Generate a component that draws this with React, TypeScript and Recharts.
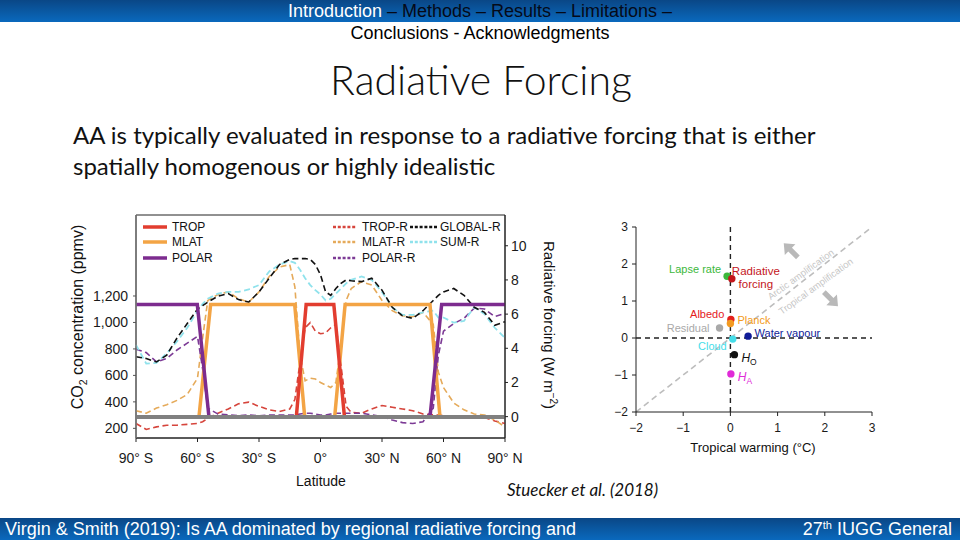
import React from "react";
import {
  LineChart,
  Line,
  XAxis,
  YAxis,
  ReferenceArea,
  ScatterChart,
  Scatter,
  ReferenceLine,
  ReferenceDot,
} from "recharts";

// ---------- Left panel: CO2 forcing patterns and their radiative forcing ----------
const latGrid = [
  -90, -85, -80, -75, -70, -65, -60, -57.5, -55, -50, -45, -40, -35, -30, -25, -20, -15, -12.5, -10, -7.5, -5, -2.5,
  0, 2.5, 5, 7.5, 10, 12.5, 15, 20, 25, 30, 35, 40, 45, 50, 55, 57.5, 60, 65, 70, 75, 80, 85, 90,
];
const tropR = [
  -0.4, -0.75, -0.6, -0.5, -0.5, -0.45, -0.4, -0.3, -0.1, 0.2, 0.45, 0.75, 0.85, 0.6, 0.4, 0.3, 0.45, 1.0, 3.2, 5.2,
  5.5, 5.0, 4.85, 4.9, 5.2, 5.4, 3.0, 0.6, 0.25, 0.2, 0.45, 0.65, 0.55, 0.45, 0.35, 0.15, 0.1, 0.1, 0.05, 0.0, -0.05,
  -0.05, -0.05, -0.25, -0.4,
];
const mlatR = [
  0.35, 0.2, 0.5, 0.7, 0.95, 1.3, 2.25, 4.6, 6.8, 7.15, 7.3, 6.9, 6.7, 7.3, 8.2, 8.75, 8.9, 7.6, 3.6, 2.1, 2.25, 2.2,
  2.0, 1.85, 1.7, 2.0, 4.2, 6.8, 7.5, 7.9, 7.7, 6.8, 6.2, 5.9, 5.85, 6.1, 5.4, 2.6, 1.7, 0.8, 0.4, 0.15, 0.1, -0.2,
  -0.6,
];
const polarR = [
  3.95, 3.75, 3.2, 3.4, 3.9, 4.3, 4.7, 2.8, 0.5, 0.15, 0.1, 0.05, 0.1, 0.05, 0.1, 0.1, 0.1, 0.1, 0.15, 0.2, 0.2, 0.15,
  0.1, 0.1, 0.15, 0.2, 0.2, 0.2, 0.2, 0.2, 0.1, 0.0, -0.2, -0.35, -0.4, -0.3, 0.5, 3.6, 5.0, 5.45, 5.75, 6.35, 6.3,
  5.85, 6.05,
];
const globalR = [
  3.5, 3.4, 3.2, 3.6, 4.6, 5.45, 6.3, 6.5, 6.7, 7.05, 7.2, 6.85, 6.7, 7.3, 8.1, 8.9, 9.2, 9.25, 9.25, 9.25, 9.2, 8.9,
  8.3, 7.3, 7.1, 7.5, 7.8, 8.0, 7.95, 7.9, 8.1, 7.4, 6.4, 5.9, 5.75, 6.2, 6.8, 7.1, 7.3, 7.5, 7.1, 6.4, 6.1, 5.35,
  5.55,
];
const sumR = [
  4.2, 3.1, 3.15, 3.7, 4.4, 5.2, 6.2, 6.6, 6.9, 7.2, 7.3, 7.3, 7.45, 7.7, 8.5, 8.9, 9.1, 9.0, 8.6, 8.1, 7.7, 7.4, 7.15,
  6.8, 6.9, 7.2, 7.5, 7.8, 8.0, 8.2, 8.0, 7.3, 6.4, 5.95, 5.95, 6.1, 6.2, 5.8, 5.8, 5.5, 5.6, 6.4, 6.0, 5.2, 4.6,
];

const tropLat = [-90, -11.8, -7, 6.5, 11.7, 90];
const tropCO2 = [285, 285, 1136, 1136, 285, 285];
const mlatLat = [-90, -59.3, -53.6, -12.6, -7.7, 6.9, 12, 53.4, 58.3, 90];
const mlatCO2 = [285, 285, 1136, 1136, 285, 285, 1136, 1136, 285, 285];
const polarLat = [-90, -60.1, -54.4, 53.4, 59.1, 90];
const polarCO2 = [1136, 1136, 285, 285, 1136, 1136];
const controlLat = [-90, 90];
const controlCO2 = [285, 285];

const latTicks = [-90, -60, -30, 0, 30, 60, 90];
const latTickLabels = ["90° S", "60° S", "30° S", "0°", "30° N", "60° N", "90° N"];
const co2Ticks = [200, 400, 600, 800, 1000, 1200];
const rfTicks = [0, 2, 4, 6, 8, 10];

const solidLegend = ["TROP", "MLAT", "POLAR"];
const dashedLegend = ["TROP-R", "MLAT-R", "POLAR-R"];
const dashedLegend2 = ["GLOBAL-R", "SUM-R"];

// ---------- Right panel: feedback decomposition ----------
const feedbackNames = ["Lapse rate", "Radiative forcing", "Albedo", "Planck", "Residual", "Water vapour", "Cloud", "H_O", "H_A"];
const tropicalWarming = [-0.07, 0.03, 0.01, 0.0, -0.23, 0.375, 0.05, 0.085, 0.01];
const arcticWarming = [1.67, 1.6, 0.5, 0.39, 0.27, 0.05, -0.03, -0.45, -0.97];
const warmingTicks = [-2, -1, 0, 1, 2, 3];

const forcingTable = latGrid.map((lat, i) => ({
  lat,
  tropR: tropR[i],
  mlatR: mlatR[i],
  polarR: polarR[i],
  globalR: globalR[i],
  sumR: sumR[i],
}));
const toSeries = (lats: number[], vals: number[]) => lats.map((lat, i) => ({ lat, co2: vals[i] }));
const feedbackPoints = feedbackNames.map((name, i) => ({ name, x: tropicalWarming[i], y: arcticWarming[i] }));

const C = {
  trop: "#e23d2f",
  mlat: "#f3a445",
  polar: "#7d2c8f",
  tropR: "#d6453c",
  mlatR: "#e5aa5a",
  polarR: "#7c3a95",
  globalR: "#111111",
  sumR: "#8fe2ec",
  control: "#808080",
};

const SANS = '"Liberation Sans", Arial, Helvetica, sans-serif';
const CAL = 'Lato, "Open Sans", sans-serif';

const fmtMinus = (v: number) => (v < 0 ? "\u2212" + Math.abs(v) : String(v));

const feedbackStyle: Record<string, { color: string; dx: number; dy: number; anchor: "start" | "end" | "middle" }> = {
  "Lapse rate": { color: "#3cb83c", dx: -6, dy: -7, anchor: "end" },
  "Radiative forcing": { color: "#c4161c", dx: 24, dy: -8, anchor: "middle" },
  Albedo: { color: "#e4201c", dx: -6.5, dy: -5.3, anchor: "end" },
  Planck: { color: "#f39a20", dx: 7, dy: -3.3, anchor: "start" },
  Residual: { color: "#a9a9a9", dx: -10, dy: 0.6, anchor: "end" },
  "Water vapour": { color: "#101c98", dx: 6.5, dy: -2.7, anchor: "start" },
  Cloud: { color: "#45dde9", dx: -6, dy: 7, anchor: "end" },
  H_O: { color: "#111111", dx: 7, dy: 3, anchor: "start" },
  H_A: { color: "#e02ad8", dx: 7, dy: 3, anchor: "start" },
};

const renderFeedback = (props: any) => {
  const { cx, cy, payload } = props;
  if (cx == null || cy == null) return <g />;
  const s = feedbackStyle[payload.name];
  const tx = cx + s.dx;
  const ty = cy + s.dy;
  let label: React.ReactNode;
  if (payload.name === "Radiative forcing") {
    label = (
      <text x={tx} y={ty} fill={s.color} fontSize={11.5} textAnchor="middle" dy="0.35em">
        <tspan x={tx}>Radiative</tspan>
        <tspan x={tx} dy={12.7}>
          forcing
        </tspan>
      </text>
    );
  } else if (payload.name === "H_O" || payload.name === "H_A") {
    label = (
      <text x={tx} y={ty} fill={s.color} fontSize={12} textAnchor="start" dy="0.35em">
        <tspan fontStyle="italic">H</tspan>
        <tspan fontSize={8.5} dy={3}>
          {payload.name.slice(2)}
        </tspan>
      </text>
    );
  } else {
    label = (
      <text x={tx} y={ty} fill={s.color} fontSize={11} textAnchor={s.anchor} dy="0.35em">
        {payload.name}
      </text>
    );
  }
  return (
    <g>
      <circle cx={cx} cy={cy} r={3.7} fill={s.color} />
      {label}
    </g>
  );
};

const arrowShape = (angle: number) => (props: any) => {
  const { cx, cy } = props;
  if (cx == null || cy == null) return <g />;
  return (
    <polygon
      points="-10,-2.6 1,-2.6 1,-7.5 10,0 1,7.5 1,2.6 -10,2.6"
      fill="#b9b9b9"
      transform={`translate(${cx},${cy}) rotate(${angle})`}
    />
  );
};

const rotatedText = (text: string) => (props: any) => {
  const { cx, cy } = props;
  if (cx == null || cy == null) return <g />;
  return (
    <text
      x={cx}
      y={cy}
      dy="0.35em"
      fill="#c6c6c6"
      fontSize={9.5}
      textAnchor="middle"
      transform={`rotate(-36, ${cx}, ${cy})`}
    >
      {text}
    </text>
  );
};

function LegendOverlay() {
  const rows = [9, 24, 40];
  return (
    <svg
      width={380}
      height={50}
      style={{ position: "absolute", left: 140, top: 218, fontFamily: SANS, overflow: "visible" }}
    >
      {solidLegend.map((n, i) => (
        <g key={n}>
          <line x1={3} x2={27} y1={rows[i]} y2={rows[i]} stroke={[C.trop, C.mlat, C.polar][i]} strokeWidth={3.5} />
          <text x={32} y={rows[i]} dy="0.36em" fontSize={12} fill="#111">
            {n}
          </text>
        </g>
      ))}
      {dashedLegend.map((n, i) => (
        <g key={n}>
          <line
            x1={193}
            x2={217}
            y1={rows[i]}
            y2={rows[i]}
            stroke={[C.tropR, C.mlatR, C.polarR][i]}
            strokeWidth={2.5}
            strokeDasharray="3 1.8"
          />
          <text x={222} y={rows[i]} dy="0.36em" fontSize={12} fill="#111">
            {n}
          </text>
        </g>
      ))}
      {dashedLegend2.map((n, i) => (
        <g key={n}>
          <line
            x1={270}
            x2={297}
            y1={rows[i]}
            y2={rows[i]}
            stroke={[C.globalR, C.sumR][i]}
            strokeWidth={2.5}
            strokeDasharray="3 1.8"
          />
          <text x={300} y={rows[i]} dy="0.36em" fontSize={12} fill="#111">
            {n}
          </text>
        </g>
      ))}
    </svg>
  );
}

export default function App() {
  const tick14 = { fontSize: 14, fill: "#1a1a1a", fontFamily: SANS };
  const tick12 = { fontSize: 12, fill: "#1a1a1a", fontFamily: SANS };
  return (
    <div
      style={{
        position: "absolute",
        left: 0,
        top: 0,
        width: 960,
        height: 540,
        background: "#ffffff",
        overflow: "hidden",
        fontFamily: SANS,
      }}
    >
      {/* header */}
      <div
        style={{
          position: "absolute",
          left: 0,
          top: 0,
          width: 960,
          height: 22,
          background: "linear-gradient(#0a4786, #0a69bd)",
          textAlign: "center",
          fontSize: 18,
          lineHeight: "22px",
          whiteSpace: "nowrap",
        }}
      >
        <span style={{ color: "#ffffff" }}>Introduction</span>
        <span style={{ color: "#050a18" }}> – Methods – Results – Limitations –</span>
      </div>
      <div
        style={{
          position: "absolute",
          left: 0,
          top: 22,
          width: 960,
          height: 22,
          textAlign: "center",
          fontSize: 18,
          lineHeight: "22px",
          color: "#000",
        }}
      >
        Conclusions - Acknowledgments
      </div>
      <div
        style={{
          position: "absolute",
          left: 0,
          top: 55,
          width: 962,
          height: 50,
          textAlign: "center",
          fontSize: 41,
          lineHeight: "50px",
          fontFamily: CAL,
          fontWeight: 300,
          color: "#111",
        }}
      >
        Radiative Forcing
      </div>
      <div
        style={{
          position: "absolute",
          left: 73,
          top: 119,
          fontSize: 24,
          lineHeight: "31px",
          fontFamily: CAL,
          color: "#111",
          whiteSpace: "nowrap",
        }}
      >
        AA is typically evaluated in response to a radiative forcing that is either
        <br />
        spatially homogenous or highly idealistic
      </div>

      {/* left chart */}
      <div style={{ position: "absolute", left: 60, top: 200 }}>
        <LineChart width={520} height={300} data={forcingTable} margin={{ top: 15, right: 0, bottom: 0, left: 0 }}>
          <XAxis
            dataKey="lat"
            type="number"
            domain={[-90, 90]}
            ticks={latTicks}
            interval={0}
            tickFormatter={(v: number) => latTickLabels[latTicks.indexOf(v)]}
            height={62}
            tickSize={4}
            tickMargin={11}
            tick={tick14}
            axisLine={{ stroke: "#222" }}
            tickLine={{ stroke: "#222" }}
          />
          <YAxis
            yAxisId="co2"
            type="number"
            domain={[127, 1812]}
            ticks={co2Ticks}
            interval={0}
            tickFormatter={(v: number) => v.toLocaleString("en-US")}
            width={76}
            tickSize={3}
            tickMargin={5}
            tick={tick14}
            axisLine={{ stroke: "#777", strokeWidth: 1.5 }}
            tickLine={{ stroke: "#555" }}
          />
          <YAxis
            yAxisId="rf"
            orientation="right"
            type="number"
            domain={[-1.25, 11.8]}
            ticks={rfTicks}
            interval={0}
            width={75}
            tickSize={3}
            tickMargin={3}
            tick={tick14}
            axisLine={{ stroke: "#222" }}
            tickLine={{ stroke: "#222" }}
          />
          <ReferenceArea
            yAxisId="co2"
            x1={-90}
            x2={90}
            y1={127}
            y2={1812}
            fill="none"
            stroke="#222"
            strokeWidth={1}
            ifOverflow="extendDomain"
          />
          <Line yAxisId="rf" dataKey="tropR" stroke={C.tropR} strokeWidth={1.6} strokeDasharray="6 3.5" dot={false} isAnimationActive={false} />
          <Line yAxisId="rf" dataKey="mlatR" stroke={C.mlatR} strokeWidth={1.6} strokeDasharray="6 3.5" dot={false} isAnimationActive={false} />
          <Line yAxisId="rf" dataKey="polarR" stroke={C.polarR} strokeWidth={1.6} strokeDasharray="6 3.5" dot={false} isAnimationActive={false} />
          <Line yAxisId="rf" dataKey="sumR" stroke={C.sumR} strokeWidth={1.8} strokeDasharray="6 3.5" dot={false} isAnimationActive={false} />
          <Line yAxisId="rf" dataKey="globalR" stroke={C.globalR} strokeWidth={1.6} strokeDasharray="6 3.5" dot={false} isAnimationActive={false} />
          <Line yAxisId="co2" data={toSeries(mlatLat, mlatCO2)} dataKey="co2" stroke={C.mlat} strokeWidth={3.5} dot={false} isAnimationActive={false} />
          <Line yAxisId="co2" data={toSeries(tropLat, tropCO2)} dataKey="co2" stroke={C.trop} strokeWidth={3.5} dot={false} isAnimationActive={false} />
          <Line yAxisId="co2" data={toSeries(polarLat, polarCO2)} dataKey="co2" stroke={C.polar} strokeWidth={3.5} dot={false} isAnimationActive={false} />
          <Line yAxisId="co2" data={toSeries(controlLat, controlCO2)} dataKey="co2" stroke={C.control} strokeWidth={4} dot={false} isAnimationActive={false} />
        </LineChart>
      </div>
      <LegendOverlay />
      <div
        style={{
          position: "absolute",
          left: 78 - 130,
          top: 307,
          width: 260,
          height: 20,
          lineHeight: "20px",
          textAlign: "center",
          fontSize: 16,
          color: "#111",
          transform: "rotate(-90deg)",
          whiteSpace: "nowrap",
        }}
      >
        CO<span style={{ fontSize: 10.5, position: "relative", top: 4 }}>2</span> concentration (ppmv)
      </div>
      <div
        style={{
          position: "absolute",
          left: 549 - 120,
          top: 315,
          width: 240,
          height: 20,
          lineHeight: "20px",
          textAlign: "center",
          fontSize: 15,
          color: "#111",
          transform: "rotate(90deg)",
          whiteSpace: "nowrap",
        }}
      >
        Radiative forcing (W m<span style={{ fontSize: 10, position: "relative", top: -6 }}>−2</span>)
      </div>
      <div
        style={{
          position: "absolute",
          left: 221,
          top: 471,
          width: 200,
          height: 20,
          lineHeight: "20px",
          textAlign: "center",
          fontSize: 14,
          color: "#111",
        }}
      >
        Latitude
      </div>

      {/* right chart */}
      <div style={{ position: "absolute", left: 590, top: 215 }}>
        <ScatterChart width={300} height={240} margin={{ top: 12, right: 18, bottom: 0, left: 0 }}>
          <XAxis
            dataKey="x"
            type="number"
            domain={[-2, 3]}
            ticks={warmingTicks}
            interval={0}
            tickFormatter={fmtMinus}
            height={43}
            tickSize={4}
            tickMargin={7}
            tick={tick12}
            axisLine={{ stroke: "#222" }}
            tickLine={{ stroke: "#222" }}
          />
          <YAxis
            dataKey="y"
            type="number"
            domain={[-2, 3]}
            ticks={warmingTicks}
            interval={0}
            tickFormatter={fmtMinus}
            width={46}
            tickSize={4}
            tickMargin={4}
            tick={tick12}
            axisLine={{ stroke: "#222" }}
            tickLine={{ stroke: "#222" }}
          />
          <ReferenceLine
            segment={[
              { x: -2, y: -2 },
              { x: 3, y: 3 },
            ]}
            stroke="#bdbdbd"
            strokeWidth={1.6}
            strokeDasharray="6 4"
          />
          <ReferenceLine x={0} stroke="#222" strokeWidth={1.4} strokeDasharray="5 4" />
          <ReferenceLine y={0} stroke="#222" strokeWidth={1.4} strokeDasharray="5 4" />
          <ReferenceDot x={1.28} y={2.37} r={1} shape={arrowShape(-135)} />
          <ReferenceDot x={2.13} y={1.05} r={1} shape={arrowShape(45)} />
          <ReferenceDot x={1.49} y={1.72} r={1} shape={rotatedText("Arctic amplification")} />
          <ReferenceDot x={1.81} y={1.4} r={1} shape={rotatedText("Tropical amplification")} />
          <Scatter data={feedbackPoints} shape={renderFeedback} isAnimationActive={false} />
        </ScatterChart>
      </div>
      <div
        style={{
          position: "absolute",
          left: 653,
          top: 438,
          width: 200,
          height: 20,
          lineHeight: "20px",
          textAlign: "center",
          fontSize: 13,
          color: "#111",
        }}
      >
        Tropical warming (°C)
      </div>

      <div
        style={{
          position: "absolute",
          left: 507,
          top: 479,
          height: 22,
          lineHeight: "22px",
          fontSize: 17,
          fontStyle: "italic",
          fontFamily: CAL,
          color: "#111",
          whiteSpace: "nowrap",
        }}
      >
        Stuecker et al. (2018)
      </div>

      {/* footer */}
      <div
        style={{
          position: "absolute",
          left: 0,
          top: 518,
          width: 960,
          height: 22,
          background: "linear-gradient(#0a4786, #0a69bd)",
          fontSize: 18,
          lineHeight: "22px",
          color: "#ffffff",
          whiteSpace: "nowrap",
        }}
      >
        <span style={{ position: "absolute", left: 5, top: 0 }}>
          Virgin &amp; Smith (2019): Is AA dominated by regional radiative forcing and
        </span>
        <span style={{ position: "absolute", right: 8, top: 0 }}>
          27<span style={{ fontSize: 11, position: "relative", top: -6 }}>th</span> IUGG General
        </span>
      </div>
    </div>
  );
}
